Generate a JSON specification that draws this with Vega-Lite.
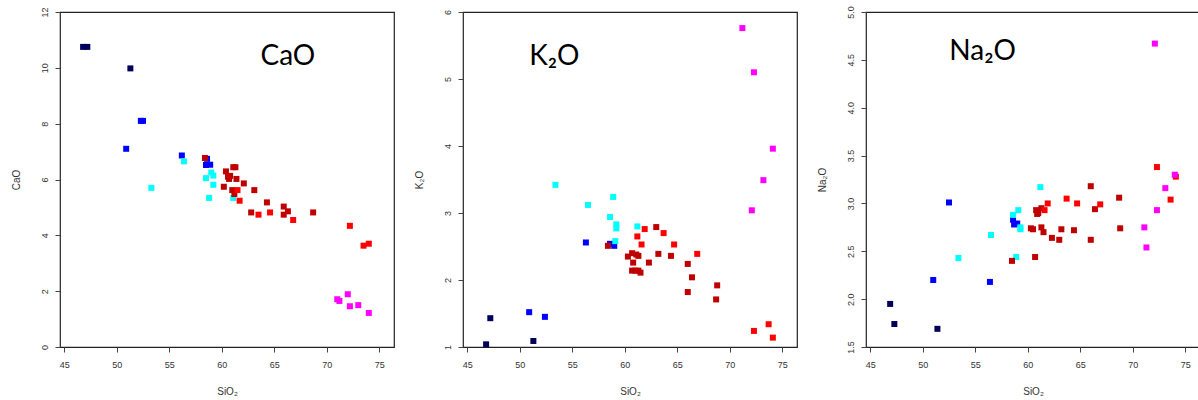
{
  "$schema": "https://vega.github.io/schema/vega-lite/v6.json",
  "padding": {"left": 10, "top": 5, "right": 0, "bottom": 0},
  "bounds": "flush",
  "spacing": 69,
  "background": "white",
  "config": {
    "view": {"stroke": "#222222", "strokeWidth": 1.2},
    "axis": {
      "grid": false, "domain": false, "tickSize": 5, "tickColor": "#444444",
      "labelFont": "Liberation Sans", "labelFontSize": 9, "labelColor": "#333333",
      "titleFont": "Liberation Sans", "titleFontSize": 10, "titleFontWeight": "normal", "titleColor": "#333333"
    },
    "axisX": {"labelPadding": 8, "titlePadding": 17},
    "axisY": {"labelAngle": 270, "labelPadding": 6, "titlePadding": 19}
  },
  "datasets": {
    "cao": [
      {"s": 46.8, "v": 10.75, "g": "navy"}, {"s": 47.2, "v": 10.75, "g": "navy"}, {"s": 51.3, "v": 9.98, "g": "navy"},
      {"s": 52.3, "v": 8.1, "g": "blue"}, {"s": 52.5, "v": 8.1, "g": "blue"}, {"s": 50.9, "v": 7.1, "g": "blue"}, {"s": 56.2, "v": 6.86, "g": "blue"}, {"s": 58.6, "v": 6.74, "g": "blue"}, {"s": 58.5, "v": 6.52, "g": "blue"}, {"s": 58.9, "v": 6.53, "g": "blue"},
      {"s": 53.3, "v": 5.7, "g": "cyan"}, {"s": 56.4, "v": 6.65, "g": "cyan"}, {"s": 59.0, "v": 6.25, "g": "cyan"}, {"s": 59.2, "v": 6.14, "g": "cyan"}, {"s": 58.5, "v": 6.05, "g": "cyan"}, {"s": 59.2, "v": 5.81, "g": "cyan"}, {"s": 58.8, "v": 5.34, "g": "cyan"}, {"s": 61.1, "v": 5.34, "g": "cyan"},
      {"s": 58.4, "v": 6.77, "g": "darkred"}, {"s": 60.4, "v": 6.29, "g": "darkred"}, {"s": 61.1, "v": 6.44, "g": "darkred"}, {"s": 61.3, "v": 6.44, "g": "darkred"}, {"s": 60.6, "v": 6.1, "g": "darkred"}, {"s": 60.8, "v": 6.13, "g": "darkred"}, {"s": 60.7, "v": 6.02, "g": "darkred"}, {"s": 61.4, "v": 6.02, "g": "darkred"}, {"s": 60.2, "v": 5.74, "g": "darkred"}, {"s": 62.1, "v": 5.86, "g": "darkred"}, {"s": 61.0, "v": 5.62, "g": "darkred"}, {"s": 61.2, "v": 5.48, "g": "darkred"}, {"s": 63.1, "v": 5.62, "g": "darkred"}, {"s": 64.3, "v": 5.18, "g": "darkred"}, {"s": 62.8, "v": 4.82, "g": "darkred"}, {"s": 65.9, "v": 5.03, "g": "darkred"}, {"s": 66.3, "v": 4.86, "g": "darkred"}, {"s": 65.9, "v": 4.74, "g": "darkred"}, {"s": 68.7, "v": 4.82, "g": "darkred"},
      {"s": 61.5, "v": 5.62, "g": "red"}, {"s": 61.7, "v": 5.24, "g": "red"}, {"s": 63.5, "v": 4.74, "g": "red"}, {"s": 64.6, "v": 4.82, "g": "red"}, {"s": 66.8, "v": 4.55, "g": "red"}, {"s": 72.2, "v": 4.34, "g": "red"}, {"s": 73.5, "v": 3.63, "g": "red"}, {"s": 74.0, "v": 3.7, "g": "red"},
      {"s": 71.0, "v": 1.71, "g": "magenta"}, {"s": 71.2, "v": 1.65, "g": "magenta"}, {"s": 72.0, "v": 1.89, "g": "magenta"}, {"s": 72.2, "v": 1.46, "g": "magenta"}, {"s": 73.0, "v": 1.5, "g": "magenta"}, {"s": 74.0, "v": 1.22, "g": "magenta"}
    ],
    "k2o": [
      {"s": 46.8, "v": 1.04, "g": "navy"}, {"s": 47.2, "v": 1.43, "g": "navy"}, {"s": 51.3, "v": 1.09, "g": "navy"},
      {"s": 50.9, "v": 1.52, "g": "blue"}, {"s": 52.4, "v": 1.45, "g": "blue"}, {"s": 56.3, "v": 2.56, "g": "blue"}, {"s": 58.6, "v": 2.54, "g": "blue"}, {"s": 59.0, "v": 2.51, "g": "blue"},
      {"s": 53.4, "v": 3.42, "g": "cyan"}, {"s": 56.5, "v": 3.12, "g": "cyan"}, {"s": 58.9, "v": 3.24, "g": "cyan"}, {"s": 58.6, "v": 2.94, "g": "cyan"}, {"s": 59.2, "v": 2.83, "g": "cyan"}, {"s": 59.2, "v": 2.77, "g": "cyan"}, {"s": 61.2, "v": 2.8, "g": "cyan"}, {"s": 59.1, "v": 2.58, "g": "cyan"},
      {"s": 58.4, "v": 2.51, "g": "darkred"}, {"s": 60.3, "v": 2.35, "g": "darkred"}, {"s": 60.7, "v": 2.4, "g": "darkred"}, {"s": 61.1, "v": 2.38, "g": "darkred"}, {"s": 61.3, "v": 2.36, "g": "darkred"}, {"s": 60.8, "v": 2.26, "g": "darkred"}, {"s": 60.7, "v": 2.14, "g": "darkred"}, {"s": 61.0, "v": 2.14, "g": "darkred"}, {"s": 61.3, "v": 2.14, "g": "darkred"}, {"s": 61.5, "v": 2.11, "g": "darkred"}, {"s": 63.0, "v": 2.79, "g": "darkred"}, {"s": 63.2, "v": 2.39, "g": "darkred"}, {"s": 62.3, "v": 2.26, "g": "darkred"}, {"s": 64.4, "v": 2.36, "g": "darkred"}, {"s": 66.0, "v": 2.24, "g": "darkred"}, {"s": 66.4, "v": 2.04, "g": "darkred"}, {"s": 66.0, "v": 1.82, "g": "darkred"}, {"s": 68.8, "v": 1.92, "g": "darkred"}, {"s": 68.7, "v": 1.71, "g": "darkred"},
      {"s": 61.2, "v": 2.65, "g": "red"}, {"s": 61.9, "v": 2.76, "g": "red"}, {"s": 61.6, "v": 2.53, "g": "red"}, {"s": 63.7, "v": 2.7, "g": "red"}, {"s": 64.7, "v": 2.53, "g": "red"}, {"s": 66.9, "v": 2.39, "g": "red"}, {"s": 72.3, "v": 1.24, "g": "red"}, {"s": 73.7, "v": 1.34, "g": "red"}, {"s": 74.1, "v": 1.14, "g": "red"},
      {"s": 71.2, "v": 5.76, "g": "magenta"}, {"s": 72.3, "v": 5.1, "g": "magenta"}, {"s": 74.1, "v": 3.96, "g": "magenta"}, {"s": 73.2, "v": 3.49, "g": "magenta"}, {"s": 72.1, "v": 3.04, "g": "magenta"}
    ],
    "na2o": [
      {"s": 46.9, "v": 1.95, "g": "navy"}, {"s": 47.3, "v": 1.74, "g": "navy"}, {"s": 51.4, "v": 1.69, "g": "navy"},
      {"s": 51.0, "v": 2.2, "g": "blue"}, {"s": 52.5, "v": 3.01, "g": "blue"}, {"s": 56.4, "v": 2.18, "g": "blue"}, {"s": 58.6, "v": 2.83, "g": "blue"}, {"s": 58.7, "v": 2.78, "g": "blue"}, {"s": 59.0, "v": 2.79, "g": "blue"},
      {"s": 53.4, "v": 2.43, "g": "cyan"}, {"s": 56.5, "v": 2.67, "g": "cyan"}, {"s": 58.6, "v": 2.88, "g": "cyan"}, {"s": 59.1, "v": 2.93, "g": "cyan"}, {"s": 59.3, "v": 2.75, "g": "cyan"}, {"s": 59.3, "v": 2.73, "g": "cyan"}, {"s": 58.9, "v": 2.44, "g": "cyan"}, {"s": 61.2, "v": 3.17, "g": "cyan"},
      {"s": 58.5, "v": 2.4, "g": "darkred"}, {"s": 60.7, "v": 2.44, "g": "darkred"}, {"s": 60.3, "v": 2.74, "g": "darkred"}, {"s": 60.5, "v": 2.73, "g": "darkred"}, {"s": 60.8, "v": 2.93, "g": "darkred"}, {"s": 61.0, "v": 2.9, "g": "darkred"}, {"s": 60.9, "v": 2.89, "g": "darkred"}, {"s": 61.3, "v": 2.95, "g": "darkred"}, {"s": 61.3, "v": 2.75, "g": "darkred"}, {"s": 61.5, "v": 2.7, "g": "darkred"}, {"s": 62.3, "v": 2.64, "g": "darkred"}, {"s": 63.0, "v": 2.62, "g": "darkred"}, {"s": 63.2, "v": 2.73, "g": "darkred"}, {"s": 64.4, "v": 2.72, "g": "darkred"}, {"s": 66.0, "v": 2.62, "g": "darkred"}, {"s": 66.0, "v": 3.18, "g": "darkred"}, {"s": 66.4, "v": 2.94, "g": "darkred"}, {"s": 68.7, "v": 3.06, "g": "darkred"}, {"s": 68.8, "v": 2.74, "g": "darkred"},
      {"s": 61.6, "v": 2.93, "g": "red"}, {"s": 61.9, "v": 3.0, "g": "red"}, {"s": 63.7, "v": 3.05, "g": "red"}, {"s": 64.7, "v": 3.0, "g": "red"}, {"s": 66.9, "v": 2.99, "g": "red"}, {"s": 72.3, "v": 3.38, "g": "red"}, {"s": 73.6, "v": 3.04, "g": "red"}, {"s": 74.1, "v": 3.28, "g": "red"},
      {"s": 72.1, "v": 4.67, "g": "magenta"}, {"s": 73.1, "v": 3.16, "g": "magenta"}, {"s": 74.0, "v": 3.3, "g": "magenta"}, {"s": 72.3, "v": 2.93, "g": "magenta"}, {"s": 71.1, "v": 2.75, "g": "magenta"}, {"s": 71.3, "v": 2.54, "g": "magenta"}
    ]
  },
  "hconcat": [
    {
      "width": 334, "height": 335,
      "layer": [
        {
          "data": {"name": "cao"},
          "mark": {"type": "point", "shape": "square", "filled": true, "opacity": 1, "size": 36},
          "encoding": {
            "x": {"field": "s", "type": "quantitative", "title": "SiO₂", "scale": {"domain": [44.6, 76.4], "nice": false, "zero": false}, "axis": {"values": [45, 50, 55, 60, 65, 70, 75], "format": "d"}},
            "y": {"field": "v", "type": "quantitative", "title": "CaO", "scale": {"domain": [0, 12], "nice": false, "zero": false}, "axis": {"values": [0, 2, 4, 6, 8, 10, 12], "format": "d"}},
            "color": {"field": "g", "type": "nominal", "legend": null, "scale": {"domain": ["navy", "blue", "cyan", "darkred", "red", "magenta"], "range": ["#00005A", "#0000FF", "#00FFFF", "#BF0000", "#FF0000", "#FF00FF"]}}
          }
        },
        {
          "data": {"values": [{"s": 66.3, "v": 10.4, "t": "CaO"}]},
          "mark": {"type": "text", "font": "Lato", "fontSize": 28, "color": "black", "align": "center", "baseline": "middle"},
          "encoding": {"x": {"field": "s", "type": "quantitative"}, "y": {"field": "v", "type": "quantitative"}, "text": {"field": "t"}}
        }
      ]
    },
    {
      "width": 334, "height": 335,
      "layer": [
        {
          "data": {"name": "k2o"},
          "mark": {"type": "point", "shape": "square", "filled": true, "opacity": 1, "size": 36},
          "encoding": {
            "x": {"field": "s", "type": "quantitative", "title": "SiO₂", "scale": {"domain": [44.6, 76.4], "nice": false, "zero": false}, "axis": {"values": [45, 50, 55, 60, 65, 70, 75], "format": "d"}},
            "y": {"field": "v", "type": "quantitative", "title": "K₂O", "scale": {"domain": [1, 6], "nice": false, "zero": false}, "axis": {"values": [1, 2, 3, 4, 5, 6], "format": "d"}},
            "color": {"field": "g", "type": "nominal", "legend": null, "scale": {"domain": ["navy", "blue", "cyan", "darkred", "red", "magenta"], "range": ["#00005A", "#0000FF", "#00FFFF", "#BF0000", "#FF0000", "#FF00FF"]}}
          }
        },
        {
          "data": {"values": [{"s": 53.3, "v": 5.33, "t": "K₂O"}]},
          "mark": {"type": "text", "font": "Lato", "fontSize": 28, "color": "black", "align": "center", "baseline": "middle"},
          "encoding": {"x": {"field": "s", "type": "quantitative"}, "y": {"field": "v", "type": "quantitative"}, "text": {"field": "t"}}
        }
      ]
    },
    {
      "width": 334, "height": 335,
      "layer": [
        {
          "data": {"name": "na2o"},
          "mark": {"type": "point", "shape": "square", "filled": true, "opacity": 1, "size": 36},
          "encoding": {
            "x": {"field": "s", "type": "quantitative", "title": "SiO₂", "scale": {"domain": [44.6, 76.4], "nice": false, "zero": false}, "axis": {"values": [45, 50, 55, 60, 65, 70, 75], "format": "d"}},
            "y": {"field": "v", "type": "quantitative", "title": "Na₂O", "scale": {"domain": [1.5, 5], "nice": false, "zero": false}, "axis": {"values": [1.5, 2, 2.5, 3, 3.5, 4, 4.5, 5], "format": ".1f"}},
            "color": {"field": "g", "type": "nominal", "legend": null, "scale": {"domain": ["navy", "blue", "cyan", "darkred", "red", "magenta"], "range": ["#00005A", "#0000FF", "#00FFFF", "#BF0000", "#FF0000", "#FF00FF"]}}
          }
        },
        {
          "data": {"values": [{"s": 55.7, "v": 4.58, "t": "Na₂O"}]},
          "mark": {"type": "text", "font": "Lato", "fontSize": 28, "color": "black", "align": "center", "baseline": "middle"},
          "encoding": {"x": {"field": "s", "type": "quantitative"}, "y": {"field": "v", "type": "quantitative"}, "text": {"field": "t"}}
        }
      ]
    }
  ]
}
